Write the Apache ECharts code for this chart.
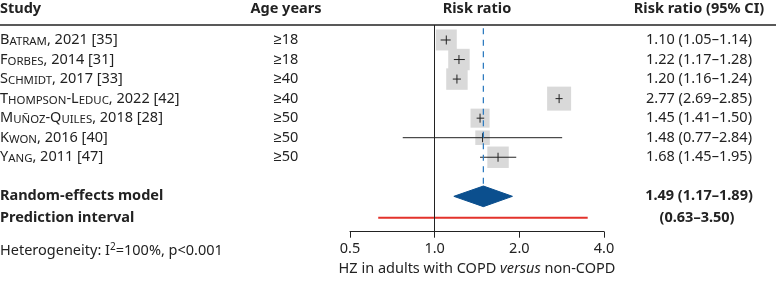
<!DOCTYPE html>
<html><head><meta charset="utf-8">
<script src="https://cdn.jsdelivr.net/npm/echarts@6/dist/echarts.min.js"></script>
<style>html,body{margin:0;padding:0;background:#fff}#c{width:776px;height:283px}</style>
</head><body><div id="c"></div>
<script>
// ---- data ----
const studies = ['Batram, 2021 [35]', 'Forbes, 2014 [31]', 'Schmidt, 2017 [33]', 'Thompson-Leduc, 2022 [42]', 'Muñoz-Quiles, 2018 [28]', 'Kwon, 2016 [40]', 'Yang, 2011 [47]'];
const ages = ['≥18', '≥18', '≥40', '≥40', '≥50', '≥50', '≥50'];
const rr = [1.10, 1.22, 1.20, 2.77, 1.45, 1.48, 1.68];
const lower = [1.05, 1.17, 1.16, 2.69, 1.41, 0.77, 1.45];
const upper = [1.14, 1.28, 1.24, 2.85, 1.50, 2.84, 1.95];
const weights = [14.8, 15.5, 15.5, 19.4, 12.2, 7.1, 15.5];
const pooled = [1.49, 1.17, 1.89];      // estimate, lower, upper
const predInterval = [0.63, 3.50];
const xTicks = [0.5, 1, 2, 4];
const headers = ['Study', 'Age years', 'Risk ratio', 'Risk ratio (95% CI)'];
const pooledLabel = 'Random-effects model';
const predLabel = 'Prediction interval';
const heterogeneity = ['Heterogeneity: I', '2', '=100%, p<0.001'];
const axisTitle = ['HZ in adults with COPD ', 'versus', ' non-COPD'];

// ---- layout ----
const FONT = "'Noto Sans', sans-serif";
const FS = 14.5;
const TXT = '#222';
const ROW_RE = 8, ROW_PI = 9.1;
const BOX_MAX = 24;
const maxW = Math.max(...weights);
const f2 = v => v.toFixed(2);
const ciText = (e, l, h) => `${f2(e)} (${f2(l)}–${f2(h)})`;

function smallCaps(s) {
  let out = '', cur = null, buf = '';
  const flush = () => { if (buf) { out += `{${cur}|${buf}}`; buf = ''; } };
  for (const ch of s) {
    let t = 'n', c = ch;
    if (ch !== ch.toUpperCase()) { t = 's'; c = ch.toUpperCase(); }
    if (t !== cur) { flush(); cur = t; }
    buf += c;
  }
  flush();
  return out;
}

const chart = echarts.init(document.getElementById('c'), null, { renderer: 'canvas' });

chart.setOption({
  animation: false,
  backgroundColor: '#fff',
  grid: { left: 350, right: 172, top: 25, bottom: 51.3, containLabel: false },
  xAxis: {
    type: 'log', logBase: 2, min: xTicks[0], max: xTicks[xTicks.length - 1], interval: 1,
    axisLine: { show: true, onZero: false, lineStyle: { color: TXT, width: 1 } },
    axisTick: { show: true, length: 6, lineStyle: { color: TXT, width: 1 } },
    splitLine: { show: false },
    axisLabel: { color: TXT, fontSize: FS, fontFamily: FONT, margin: 10, formatter: v => (+v).toFixed(1) },
    name: `{n|${axisTitle[0]}}{i|${axisTitle[1]}}{n|${axisTitle[2]}}`,
    nameLocation: 'middle', nameGap: 26,
    nameTextStyle: {
      rich: {
        n: { fontSize: FS, fontFamily: FONT, color: TXT },
        i: { fontSize: FS, fontFamily: FONT, color: TXT, fontStyle: 'italic' }
      }
    }
  },
  yAxis: { type: 'value', inverse: true, min: -0.767, max: 9.81, show: false },
  series: [
    { // line of no effect
      type: 'line', data: [], silent: true,
      markLine: { symbol: 'none', silent: true, label: { show: false },
        lineStyle: { color: TXT, width: 1, type: 'solid' }, data: [{ xAxis: 1 }] }
    },
    { // study boxes + CI
      type: 'custom', clip: false, silent: true,
      data: rr.map((v, i) => [v, i, lower[i], upper[i], weights[i]]),
      encode: { x: 0, y: 1 },
      renderItem: (params, api) => {
        const row = api.value(1);
        const p = api.coord([api.value(0), row]);
        const l = api.coord([api.value(2), row]);
        const h = api.coord([api.value(3), row]);
        const side = BOX_MAX * Math.sqrt(api.value(4) / maxW);
        return { type: 'group', children: [
          { type: 'rect', shape: { x: p[0] - side / 2, y: p[1] - side / 2, width: side, height: side }, style: { fill: '#d9d9d9' } },
          { type: 'line', shape: { x1: l[0], y1: p[1], x2: h[0], y2: p[1] }, style: { stroke: TXT, lineWidth: 1 } },
          { type: 'line', shape: { x1: p[0], y1: p[1] - 4.5, x2: p[0], y2: p[1] + 4.5 }, style: { stroke: TXT, lineWidth: 1 } }
        ] };
      }
    },
    { // pooled estimate dashed line
      type: 'line', silent: true, symbol: 'none',
      data: [[pooled[0], -0.6], [pooled[0], 7.5]],
      lineStyle: { color: '#2f7cc0', width: 1.3, type: [6, 5.5] }
    },
    { // diamond
      type: 'custom', clip: false, silent: true,
      data: [[pooled[0], ROW_RE, pooled[1], pooled[2]]],
      encode: { x: 0, y: 1 },
      renderItem: (params, api) => {
        const row = api.value(1);
        const p = api.coord([api.value(0), row]);
        const l = api.coord([api.value(2), row]);
        const h = api.coord([api.value(3), row]);
        return { type: 'polygon', shape: { points: [[l[0], p[1]], [p[0], p[1] - 10.3], [h[0], p[1]], [p[0], p[1] + 10.3]] },
          style: { fill: '#0b4f8e', stroke: '#0b4f8e', lineWidth: 1 } };
      }
    },
    { // prediction interval
      type: 'line', silent: true, symbol: 'none',
      data: [[predInterval[0], ROW_PI], [predInterval[1], ROW_PI]],
      lineStyle: { color: '#e3322b', width: 2 }
    }
  ]
});

// ---- text table ----
const yOf = row => chart.convertToPixel({ gridIndex: 0 }, [1, row])[1];
const g = [];
const txt = (text, x, y, align, bold, extra) => g.push({
  type: 'text', silent: true,
  style: Object.assign({ text, x, y, textAlign: align, verticalAlign: 'middle',
    fontSize: FS, fontFamily: FONT, fontWeight: bold ? 'bold' : 'normal', fill: TXT }, extra || {})
});
const X_AGE = 286, X_RR = 699, X_PLOT = 477;
const HEAD_Y = 8.5;
txt(headers[0], 0, HEAD_Y, 'left', true);
txt(headers[1], X_AGE, HEAD_Y, 'center', true);
txt(headers[2], X_PLOT, HEAD_Y, 'center', true);
txt(headers[3], X_RR, HEAD_Y, 'center', true);
g.push({ type: 'line', silent: true, shape: { x1: 0, y1: 25, x2: 776, y2: 25 }, style: { stroke: TXT, lineWidth: 1.3 } });

studies.forEach((s, i) => {
  const y = yOf(i);
  txt(smallCaps(s), 0, y, 'left', false, {
    rich: {
      n: { fontSize: FS, fontFamily: FONT, fill: TXT, lineHeight: 15, verticalAlign: 'bottom' },
      s: { fontSize: 11.4, fontFamily: FONT, fill: TXT, lineHeight: 12, verticalAlign: 'bottom' }
    }
  });
  txt(ages[i], X_AGE, y, 'center', false);
  txt(ciText(rr[i], lower[i], upper[i]), X_RR, y, 'center', false);
});
txt(pooledLabel, 0, yOf(ROW_RE), 'left', true);
txt(predLabel, 0, yOf(ROW_PI), 'left', true);
txt(ciText(pooled[0], pooled[1], pooled[2]), X_RR, yOf(ROW_RE), 'center', true);
txt(`(${f2(predInterval[0])}–${f2(predInterval[1])})`, 697, yOf(ROW_PI), 'center', true);
txt(`{n|${heterogeneity[0]}}{s|${heterogeneity[1]}}{n|${heterogeneity[2]}}`, 0, 250, 'left', false, {
  rich: {
    n: { fontSize: FS, fontFamily: FONT, fill: TXT, lineHeight: 16, verticalAlign: 'bottom' },
    s: { fontSize: 10, fontFamily: FONT, fill: TXT, lineHeight: 16, verticalAlign: 'top' }
  }
});
chart.setOption({ graphic: { elements: g } });
</script>
</body></html>
